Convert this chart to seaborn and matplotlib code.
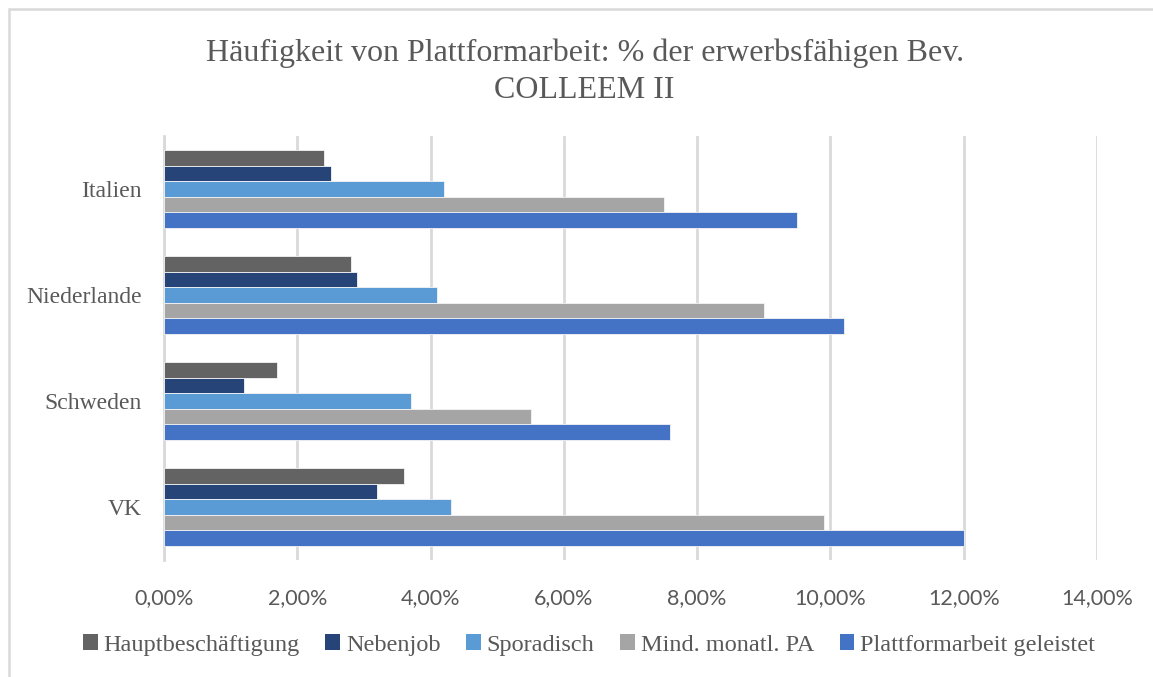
import matplotlib.pyplot as plt
import seaborn as sns
import pandas as pd
from matplotlib.patches import Patch, Rectangle
from matplotlib.ticker import FuncFormatter, MultipleLocator

countries = ['Italien', 'Niederlande', 'Schweden', 'VK']
series = ['Hauptbeschäftigung', 'Nebenjob', 'Sporadisch',
          'Mind. monatl. PA', 'Plattformarbeit geleistet']
haupt = [2.4, 2.8, 1.7, 3.6]
neben = [2.5, 2.9, 1.2, 3.2]
sporadisch = [4.2, 4.1, 3.7, 4.3]
mind_monatl = [7.5, 9.0, 5.5, 9.9]
geleistet = [9.5, 10.2, 7.6, 12.0]
colors = ['#636363', '#264478', '#5B9BD5', '#A5A5A5', '#4472C4']

rows = []
for name, vals in zip(series, [haupt, neben, sporadisch, mind_monatl, geleistet]):
    for c, v in zip(countries, vals):
        rows.append({'Land': c, 'Serie': name, 'Wert': v})
df = pd.DataFrame(rows)

sns.set_style('white')
plt.rcParams['font.family'] = ['Liberation Serif', 'DejaVu Serif']
text_color = '#595959'
grid_color = '#D9D9D9'

fig = plt.figure(figsize=(11.53, 6.77), dpi=100)
ax = fig.add_axes([164 / 1153, 1 - 560 / 677, (1097 - 164) / 1153, 424 / 677])

sns.barplot(data=df, x='Wert', y='Land', hue='Serie', order=countries,
            hue_order=series, palette=colors, saturation=1, orient='h', width=0.735,
            edgecolor='#f4f4f4', linewidth=0.6, legend=False, ax=ax, zorder=3)

ax.set_xlim(0, 14)
ax.xaxis.set_major_locator(MultipleLocator(2))
ax.xaxis.set_major_formatter(FuncFormatter(lambda v, p: f'{v:.2f}%'.replace('.', ',')))
ax.grid(axis='x', color=grid_color, linewidth=2, zorder=0)
ax.set_axisbelow(True)
for s in ['top', 'right', 'bottom']:
    ax.spines[s].set_visible(False)
ax.spines['left'].set_color(grid_color)
ax.spines['left'].set_linewidth(2)
ax.set_xlabel('')
ax.set_ylabel('')
ax.tick_params(axis='x', length=0, pad=20, labelcolor=text_color)
ax.tick_params(axis='y', length=0, pad=16, labelcolor=text_color, labelsize=17)
for lbl in ax.get_xticklabels():
    lbl.set_family(['Lato', 'DejaVu Sans'])
    lbl.set_fontsize(15.5)

fig.text(0.507, 1 - 72 / 677, 'Häufigkeit von Plattformarbeit: % der erwerbsfähigen Bev.\nCOLLEEM II',
         ha='center', va='center', fontsize=23, color=text_color, linespacing=1.35)

handles = [Patch(facecolor=c, edgecolor='none') for c in colors]
fig.legend(handles, series, loc='center', bbox_to_anchor=(0.511, 1 - 645 / 677), ncol=5,
           frameon=False, fontsize=17.5, labelcolor=text_color, handlelength=0.6,
           handleheight=0.6, handletextpad=0.25, columnspacing=1.05)

fig.patches.append(Rectangle((9 / 1153, -0.1), 1.2, 1 - 9 / 677 + 0.1, transform=fig.transFigure,
                             fill=False, edgecolor=grid_color, linewidth=1.8))

fig.savefig('out.png', dpi=100)
